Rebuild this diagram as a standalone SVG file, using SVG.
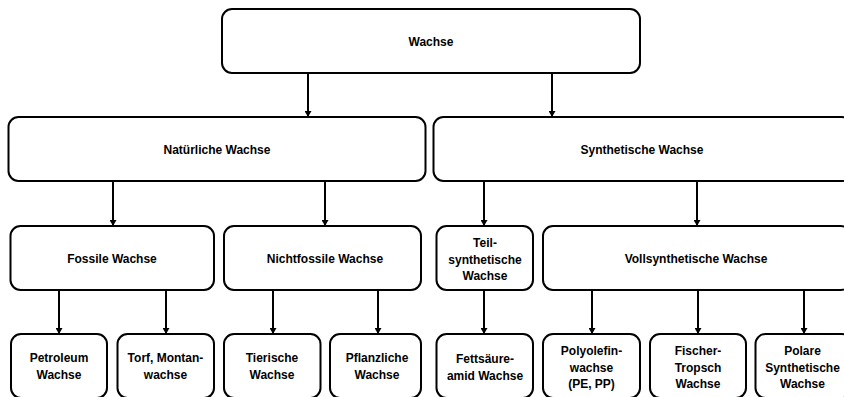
<svg xmlns="http://www.w3.org/2000/svg" width="844" height="397" viewBox="0 0 844 397">
<style>
.box{fill:#fff;stroke:#000;stroke-width:2}
.t{font-family:"Liberation Sans",Arial,sans-serif;font-weight:bold;font-size:12px;fill:#000;text-anchor:middle}
.c{stroke:#000;stroke-width:2;fill:none;marker-end:url(#ah)}
</style>
<defs>
<marker id="ah" markerUnits="userSpaceOnUse" markerWidth="7" markerHeight="7" refX="6" refY="3.5" orient="auto">
<path d="M0,0 L6,3.5 L0,7 z" fill="#000"/>
</marker>
</defs>
<rect x="0" y="0" width="844" height="397" fill="#fff"/>
<g id="connectors">
<line class="c" x1="308" y1="73" x2="308" y2="117"/>
<line class="c" x1="552" y1="73" x2="552" y2="117"/>
<line class="c" x1="113" y1="181" x2="113" y2="226"/>
<line class="c" x1="325" y1="181" x2="325" y2="226"/>
<line class="c" x1="484" y1="181" x2="484" y2="226"/>
<line class="c" x1="697" y1="181" x2="697" y2="226"/>
<line class="c" x1="59" y1="290" x2="59" y2="334"/>
<line class="c" x1="166" y1="290" x2="166" y2="334"/>
<line class="c" x1="273" y1="290" x2="273" y2="334"/>
<line class="c" x1="378" y1="290" x2="378" y2="334"/>
<line class="c" x1="484" y1="290" x2="484" y2="334"/>
<line class="c" x1="592" y1="290" x2="592" y2="334"/>
<line class="c" x1="698" y1="290" x2="698" y2="334"/>
<line class="c" x1="804" y1="290" x2="804" y2="334"/>
</g>
<g id="wachse"><rect class="box" x="222" y="9" width="418" height="64" rx="10"/><text class="t" x="431" y="46">Wachse</text></g>
<g id="natuerliche"><rect class="box" x="8.5" y="117" width="417" height="64" rx="10"/><text class="t" x="217" y="154">Natürliche Wachse</text></g>
<g id="synthetische"><rect class="box" x="433.5" y="117" width="418" height="64" rx="10"/><text class="t" x="642" y="154">Synthetische Wachse</text></g>
<g id="fossile"><rect class="box" x="10.5" y="226" width="203.5" height="64" rx="10"/><text class="t" x="112" y="262.5">Fossile Wachse</text></g>
<g id="nichtfossile"><rect class="box" x="224" y="226" width="197" height="64" rx="10"/><text class="t" x="325" y="262.5">Nichtfossile Wachse</text></g>
<g id="teilsynthetische"><rect class="box" x="436.5" y="226" width="96.5" height="64" rx="10"/><text class="t" x="485" y="247">Teil-</text><text class="t" x="485" y="263.5">synthetische</text><text class="t" x="485" y="279.5">Wachse</text></g>
<g id="vollsynthetische"><rect class="box" x="543" y="226" width="308" height="64" rx="10"/><text class="t" x="696" y="262.5">Vollsynthetische Wachse</text></g>
<g id="petroleum"><rect class="box" x="11" y="334" width="96" height="64" rx="10"/><text class="t" x="59" y="362">Petroleum</text><text class="t" x="59" y="378.5">Wachse</text></g>
<g id="torf"><rect class="box" x="117.5" y="334" width="96.5" height="64" rx="10"/><text class="t" x="165.5" y="362">Torf, Montan-</text><text class="t" x="165.5" y="378.5">wachse</text></g>
<g id="tierische"><rect class="box" x="224" y="334" width="96.5" height="64" rx="10"/><text class="t" x="272" y="362">Tierische</text><text class="t" x="272" y="378.5">Wachse</text></g>
<g id="pflanzliche"><rect class="box" x="330" y="334" width="91" height="64" rx="10"/><text class="t" x="377" y="362">Pflanzliche</text><text class="t" x="377" y="378.5">Wachse</text></g>
<g id="fettsaeure"><rect class="box" x="436.5" y="334" width="96.5" height="64" rx="10"/><text class="t" x="485" y="363">Fettsäure-</text><text class="t" x="485" y="379.5">amid Wachse</text></g>
<g id="polyolefin"><rect class="box" x="543" y="334" width="97" height="64" rx="10"/><text class="t" x="591.5" y="355">Polyolefin-</text><text class="t" x="591.5" y="371.5">wachse</text><text class="t" x="591.5" y="388">(PE, PP)</text></g>
<g id="fischer"><rect class="box" x="650" y="334" width="96" height="64" rx="10"/><text class="t" x="698" y="355">Fischer-</text><text class="t" x="698" y="371.5">Tropsch</text><text class="t" x="698" y="388">Wachse</text></g>
<g id="polare"><rect class="box" x="755.5" y="334" width="96.5" height="64" rx="10"/><text class="t" x="802.5" y="355">Polare</text><text class="t" x="802.5" y="371.5">Synthetische</text><text class="t" x="802.5" y="388">Wachse</text></g>
</svg>
